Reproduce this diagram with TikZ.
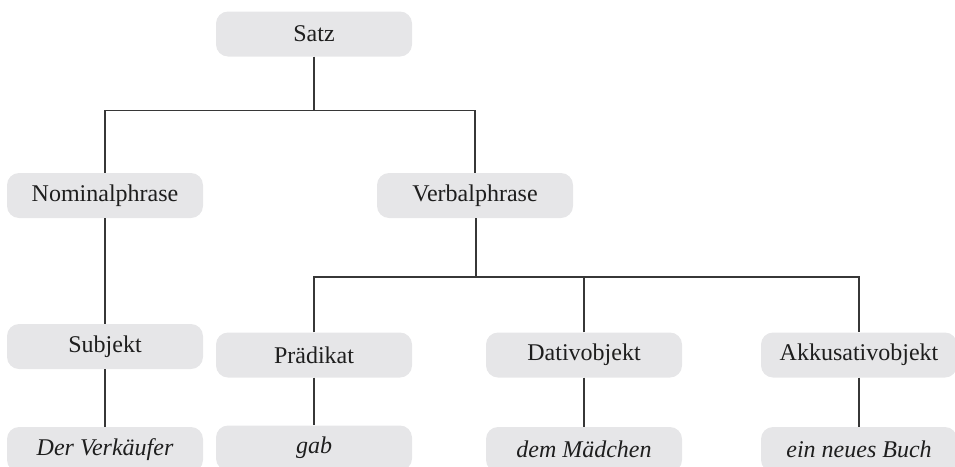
\documentclass[tikz,border=0pt]{standalone}
\usepackage{fontspec}
\setmainfont{Liberation Serif}
\usepackage{tikz}
\usetikzlibrary{calc, positioning}
\definecolor{boxgray}{RGB}{230,230,232}
\definecolor{linegray}{RGB}{55,55,55}
\definecolor{textgray}{RGB}{30,30,30}
\tikzset{
  cat/.style={
    rectangle, rounded corners=12pt, fill=boxgray, draw=none,
    minimum width=196pt, minimum height=45pt, inner sep=0pt,
    text=textgray, font=\fontsize{24}{28}\selectfont
  },
  word/.style={cat, font=\fontsize{24}{28}\selectfont\itshape},
  branch/.style={line width=1.2pt, draw=linegray},
}

\begin{document}
\begin{tikzpicture}[x=1pt, y=-1pt]
\useasboundingbox (0,0) rectangle (955,466);

% --- top level ---
\node[cat] (satz) at (314,34) {Satz};

% --- phrases ---
\node[cat] (np) at (105,195.5) {Nominalphrase};
\node[cat] (vp) at (475,195.5) {Verbalphrase};

% --- functions ---
\node[cat] (subj) at (105,346.5) {Subjekt};
\node[cat] (praed) at (314,355) {Prädikat};
\node[cat] (dat) at (584,355) {Dativobjekt};
\node[cat] (akk) at (859,355) {Akkusativobjekt};

% --- words ---
\node[word] (w1) at (105,449.5) {Der Verkäufer};
\node[word] (w2) at (314,448) {gab};
\node[word] (w3) at (584,449.5) {dem Mädchen};
\node[word] (w4) at (859,449.5) {ein neues Buch};

% junctions
\coordinate (j1) at (314,110.5);
\coordinate (j2) at (476,277);

% --- branches ---
\draw[branch] (satz.south) -- (j1);
\draw[branch] (np.north) |- (j1) -| (vp.north);
\draw[branch] (vp.south -| j2) -- (j2);
\draw[branch] (praed.north) |- (j2) -| (akk.north);
\draw[branch] (dat.north) -- (dat.north |- j2);
\draw[branch] (np.south) -- (subj.north);

\draw[branch] (subj.south) -- (w1.north);
\draw[branch] (praed.south) -- (w2.north);
\draw[branch] (dat.south) -- (w3.north);
\draw[branch] (akk.south) -- (w4.north);
\end{tikzpicture}
\end{document}
